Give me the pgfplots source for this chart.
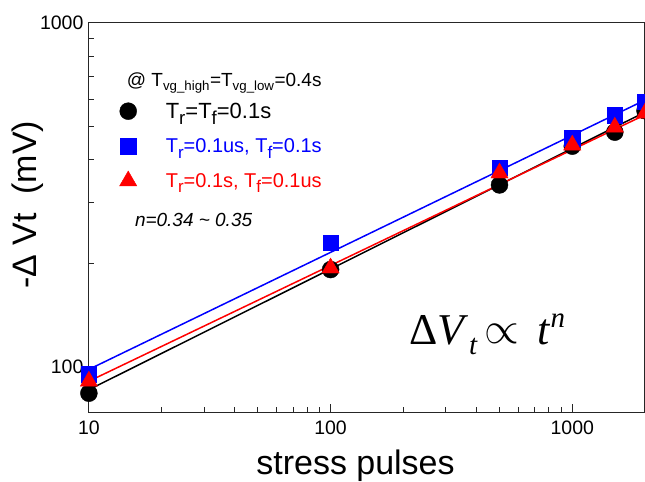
\documentclass[border=0pt]{standalone}
\usepackage{fontspec}
\setmainfont{Liberation Sans}
\newfontfamily\tnr{Liberation Serif}
\usepackage{pgfplots}
\pgfplotsset{compat=1.18}
\newcommand\sub[1]{\raisebox{-0.28em}{\scalebox{0.85}{#1}}}

\begin{document}
\begin{tikzpicture}
\begin{axis}[
  name=ax,
  scale only axis,
  width=556.8pt, height=390pt,
  xmode=log, ymode=log,
  xmin=10, xmax=2000, ymin=74, ymax=1000,
  xtick={10,100,1000}, xticklabels={10,100,1000},
  ytick={100,1000}, yticklabels={100,1000},
  tick pos=left, tick align=inside,
  major tick length=8pt, minor tick length=5pt,
  axis line style={line width=1.2pt, black!85},
  every tick/.style={line width=1pt, black!85},
  /pgf/number format/assume math mode=true,
  tick label style={font=\fontsize{19.5}{23}\selectfont},
  xticklabel style={yshift=-5pt},
  yticklabel style={xshift=-2pt},
  xlabel={stress pulses},
  ylabel={-Δ Vt\ \ (mV)},
  label style={font=\fontsize{34}{40}\selectfont},
  xlabel style={at={(axis description cs:0.4795,-0.16)}, anchor=base},
  ylabel style={at={(axis description cs:-0.1096,0.5326)}, anchor=center},
  clip=false,
  legend cell align=left,
  legend style={at={(axis description cs:0.0548,0.80)}, anchor=north west,
    draw=none, fill=none, inner sep=0pt,
    font=\fontsize{20}{24}\selectfont, row sep=15pt,
    /tikz/every odd column/.append style={column sep=27pt}},
]
% fitted power-law lines
\addplot[forget plot, black, line width=1.5pt] coordinates {(10,86) (2000,550)};
\addplot[forget plot, red, line width=1.5pt] coordinates {(10,91) (2000,540)};
\addplot[forget plot, blue, line width=1.5pt] coordinates {(10,98.5) (2000,596)};
% measured points
\addplot[only marks, mark=*, mark size=8.5pt, black] coordinates {
  (10,84) (100,192) (500,338) (1000,438) (1500,481) (2000,555)};
\addlegendentry{{\fontsize{22}{24}\selectfont T\sub{r}=T\sub{f}=0.1s}}
\addplot[only marks, mark=square*, mark size=7.8pt, blue] coordinates {
  (10,95.5) (100,230) (500,379) (1000,462) (1500,538) (2000,590)};
\addlegendentry{\textcolor{blue}{T\sub{r}=0.1us, T\sub{f}=0.1s}}
\addplot[only marks, mark=triangle*, mark size=10pt, red] coordinates {
  (10,91) (100,194) (500,366) (1000,441) (1500,497) (2000,546)};
\addlegendentry{\textcolor{red}{T\sub{r}=0.1s, T\sub{f}=0.1us}}
\node[anchor=base west, inner sep=0pt, font=\fontsize{19}{23}\selectfont]
  at (axis description cs:0.068,0.835)
  {@ T\textsubscript{vg\_high}=T\textsubscript{vg\_low}=0.4s};
\node[anchor=base west, inner sep=0pt, font=\fontsize{19}{23}\selectfont\itshape]
  at (axis description cs:0.0826,0.476) {n=0.34 \char`~\ 0.35};
\node[anchor=base, inner sep=0pt, font=\fontsize{44}{50}\selectfont\tnr]
  at (axis description cs:0.7166,0.1736)
  {Δ\textit{V}\raisebox{-10pt}{\fontsize{29}{31}\selectfont\itshape t}\,\raisebox{1pt}{\scalebox{1.8}{$\propto$}}\, \textit{t}\raisebox{17pt}{\fontsize{29}{31}\selectfont\itshape n}};
\end{axis}
\pgfresetboundingbox
\path[use as bounding box] ([shift={(-89pt,-69.3pt)}]ax.south west)
  rectangle ([shift={(0pt,22.7pt)}]ax.north east);
\end{tikzpicture}
\end{document}
